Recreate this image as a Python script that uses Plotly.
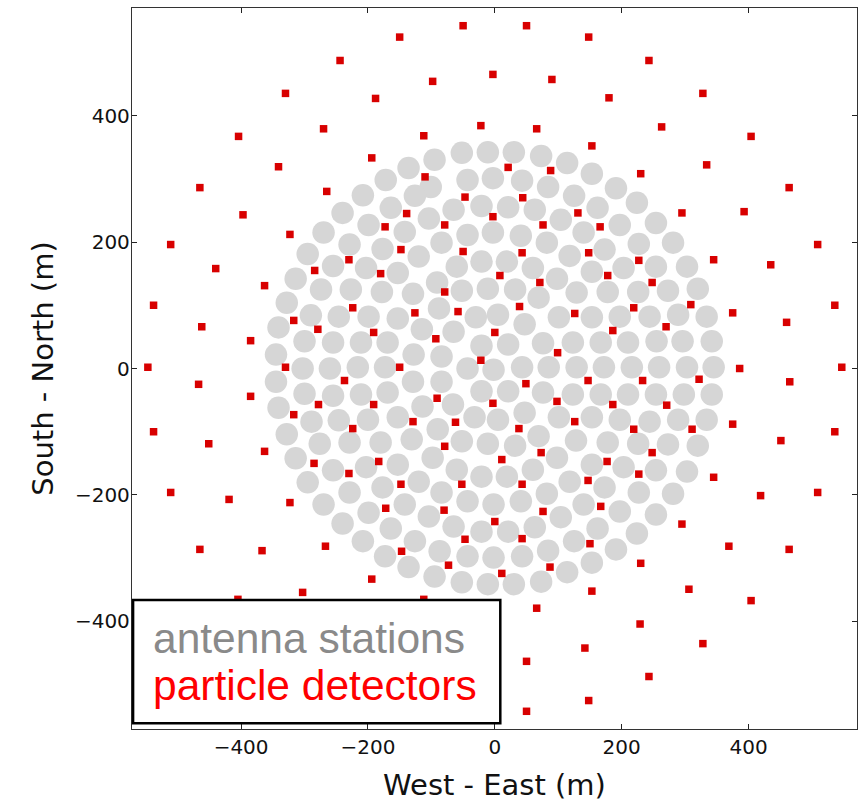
import plotly.graph_objects as go

# ---------------- data (metres) ----------------
station_x = [
    -95, -52, -11, -136, -172, -101, -43, -3, -208, -126, -65, -21, -164, -240, -199, -104,
    -142, -270, -229, -177, -84, -43, -3, -295, -255, -203, -153, -120, -60, -21, -314,
    30, 73, 114, 43, 84, 153, 125, 191, 21, 63, 104, 162, 224, 41, 82, 140, 197, 254, 118,
    173, 227, 281, 19, 60, 98, 153, 203, 254, 303,
    -274, -227, -178, -129, -91, -52, -11, 32, 69, 129, 178, 226, 273, 320,
    -328, -290, -246, -199, -153, -115, -88, -65, -30, 5, 47, 101, 153, 197, 244, 289, 334,
    -341, -300, -255, -211, -169, -128, -84, -21, 21, 76, 123, 167, 210, 255, 296, 342,
    -345, -303, -260, -216, -173, -43, -2, 43, 85, 129, 172, 216, 259, 303, 345,
    -345, -300, -255, -211, -169, -129, -84, -21, 21, 76, 123, 167, 210, 254, 298, 342,
    -341, -289, -246, -200, -153, -114, -66, -32, 5, 47, 101, 153, 197, 244, 289, 334,
    -328, -276, -229, -180, -131, -90, -52, -11, 32, 69, 128, 178, 226, 273, 320,
    -314, -255, -203, -153, -98, -60, -21, -295, -229, -177, -120, -84, -43, -2, -270, -199,
    -142, -104, -65, -21, -240, -164, -208, -126, -87, -43, -2, -173, -136, -95, -52, -11,
    98, 153, 203, 254, 303, 19, 60, 118, 173, 227, 281, 41, 82, 140, 197, 254, 63, 104, 162,
    224, 21, 125, 191, 43, 84, 153, 114, 73, 30,
]
station_y = [
    330, 341, 342, 317, 298, 287, 298, 301, 274, 273, 251, 257, 254, 246, 227, 237,
    216, 215, 196, 189, 199, 211, 215, 181, 162, 159, 151, 177, 161, 169, 142,
    342, 336, 325, 297, 287, 308, 273, 285, 255, 251, 235, 254, 262, 210, 199, 215, 227, 230, 178,
    188, 197, 199, 169, 159, 142, 153, 159, 161, 161,
    125, 125, 121, 118, 136, 123, 126, 125, 112, 120, 121, 121, 123, 126,
    104, 84, 82, 82, 79, 62, 95, 58, 81, 85, 70, 81, 81, 82, 82, 85, 82,
    65, 43, 41, 41, 41, 22, 19, 36, 38, 40, 41, 41, 41, 43, 43, 43,
    22, 0, 0, 2, 2, 0, -2, 2, 2, 2, 2, 2, 2, 2, 2,
    -21, -40, -43, -41, -38, -21, -21, -36, -36, -38, -41, -41, -41, -41, -41, -41,
    -62, -84, -82, -81, -77, -60, -57, -77, -81, -70, -77, -77, -81, -84, -81, -81,
    -104, -119, -117, -117, -112, -96, -115, -119, -122, -107, -114, -117, -119, -120, -122,
    -142, -161, -156, -152, -141, -160, -171, -180, -196, -188, -179, -196, -210, -215, -215, -228,
    -215, -234, -250, -258, -245, -253, -273, -273, -289, -297, -299, -297, -314, -329, -338, -341,
    -141, -152, -156, -161, -163, -171, -160, -179, -188, -196, -198, -210, -198, -215, -226, -231, -251, -235, -253,
    -261, -258, -273, -286, -297, -288, -307, -322, -337, -341,
]

ring_outer_x = [-50, -150, -244, -330, -404, -465, -511, -538, -547, -538, -511, -465, -405,
                50, 148, 243, 328, 404, 464, 509, 536, 547, 536, 509, 464, 404, 328, 243, 148, 50]
ring_outer_y = [542, 524, 487, 435, 367, 286, 196, 100, 2, -100, -196, -286, -365,
                542, 524, 487, 435, 367, 286, 196, 100, 2, -100, -196, -286, -367, -435, -487, -525, -542]

ring_mid_x = [-98, -188, -270, -341, -397, -440, -462, -467, -451, -419, -367, -303,
              -3, 90, 180, 263, 334, 393, 435, 460, 465, 451, 419, 369, 306, 229, 142, 50]
ring_mid_y = [454, 427, 379, 319, 243, 158, 66, -25, -119, -207, -288, -354,
              465, 457, 428, 382, 322, 248, 164, 73, -21, -114, -201, -281, -349, -404, -442, -463]

ring_in_x = [-22, -112, -194, -265, -323, -363, -385, -385, -363, -323, -267, -194, -112,
             66, 153, 230, 295, 345, 375, 386, 375, 345, 295, 230, 153, 66]
ring_in_y = [384, 368, 333, 280, 212, 131, 44, -44, -131, -212, -281, -333, -365,
             379, 352, 308, 246, 172, 88, 0, -88, -172, -246, -308, -352, -379]

core_det_x = [-110, -47, -139, -79, -173, -148, -50, -230, -284, -180, -79, -126, -58, -224, -317,
              -279, -191, -93, -22, -330, -150, -237,
              21, 88, 44, 131, -3, 76, 166, 43, 148, 227, 8, 71, 178, 248, 309, 39, 126, 219, 270,
              0, 186, 99, 147, 233, 322,
              -278, -191, -317, -91, -129, -62, -224, -79, -183, -285, -230, -148, -52, -172, -80,
              -47, -147, -73,
              49, -3, 98, 186, 271, 38, 126, 219, 311, 11, 73, 177, 248, 43, 147, 227, 0, 76, 167,
              43, 150, 11, 87]
core_det_y = [303, 271, 245, 227, 224, 188, 185, 172, 155, 150, 121, 88, 90, 96, 76,
              62, 57, 47, 13, 2, 2, -19,
              318, 313, 270, 246, 240, 227, 224, 183, 183, 171, 147, 136, 147, 136, 101, 98, 87, 96, 66,
              57, 60, 25, -19, -19, -17,
              -57, -57, -73, -47, -84, -85, -95, -123, -147, -150, -166, -183, -183, -221, -224,
              -270, -289, -311,
              -24, -55, -52, -57, -58, -95, -84, -96, -96, -144, -133, -147, -133, -183, -177, -167,
              -242, -226, -218, -269, -277, -324, -314]

detector_x = ring_outer_x + ring_mid_x + ring_in_x + core_det_x
detector_y = ring_outer_y + ring_mid_y + ring_in_y + core_det_y

tick_vals = [-400, -200, 0, 200, 400]
x_title = "West - East (m)"
y_title = "South - North (m)"
legend_labels = ["antenna stations", "particle detectors"]

# ---------------- figure ----------------
fig = go.Figure()
fig.add_trace(go.Scatter(
    x=station_x, y=station_y, mode="markers", name=legend_labels[0],
    marker=dict(symbol="circle", size=22.5, color="#d6d6d6", line=dict(width=0)),
    showlegend=False, hoverinfo="skip"))
fig.add_trace(go.Scatter(
    x=detector_x, y=detector_y, mode="markers", name=legend_labels[1],
    marker=dict(symbol="square", size=7.5, color="#d80000", line=dict(width=0)),
    showlegend=False, hoverinfo="skip"))

axis_common = dict(
    tickvals=tick_vals, ticks="inside", ticklen=5, tickwidth=1, tickcolor="#222",
    showline=True, linecolor="#333", linewidth=1.3, mirror="ticks",
    showgrid=False, zeroline=False,
    tickfont=dict(family="DejaVu Sans", size=20, color="#111"),
    title_font=dict(family="DejaVu Sans", size=29, color="#111"),
)
fig.update_xaxes(range=[-572, 571], title_text=x_title, title_standoff=16, **axis_common)
fig.update_yaxes(range=[-570, 570], title_text=y_title, title_standoff=12,
                 ticklabelstandoff=-3, **axis_common)

# legend box drawn as a framed text panel (no symbols, coloured text)
fig.add_shape(type="rect", xref="paper", yref="paper", x0=0.0015, x1=0.508, y0=0.008, y1=0.179,
              fillcolor="white", line=dict(color="black", width=2.5), layer="above")
fig.add_annotation(xref="paper", yref="paper", x=0.026, y=0.126, xanchor="left", yanchor="middle",
                   text=legend_labels[0], showarrow=False,
                   font=dict(family="Liberation Sans, Arial", size=42.5, color="#8a8a8a"))
fig.add_annotation(xref="paper", yref="paper", x=0.026, y=0.060, xanchor="left", yanchor="middle",
                   text=legend_labels[1], showarrow=False,
                   font=dict(family="Liberation Sans, Arial", size=42.5, color="#ff0000"))

fig.update_layout(
    width=861, height=804,
    margin=dict(l=132, r=4, t=8, b=75),
    plot_bgcolor="white", paper_bgcolor="white",
)

fig.write_html("out.html")
